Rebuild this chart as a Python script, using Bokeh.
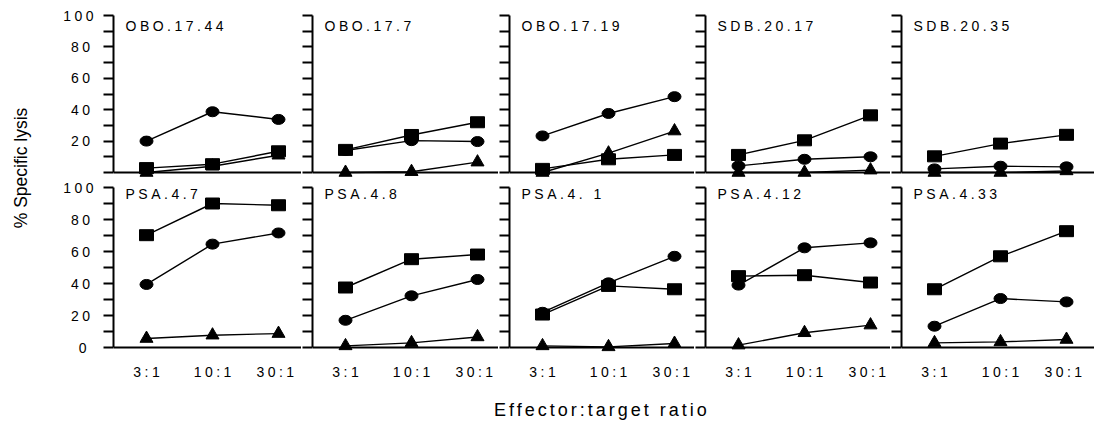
import math
from bokeh.plotting import figure
from bokeh.layouts import row, column
from bokeh.models import (Range1d, FixedTicker, Span, Label, InlineStyleSheet,
                          CustomJSTickFormatter)
from bokeh.embed import file_html
from bokeh.resources import INLINE

# ---------------- data ----------------
ratios = ["3:1", "10:1", "30:1"]
panel_names = ["OBO.17.44", "OBO.17.7", "OBO.17.19", "SDB.20.17", "SDB.20.35",
               "PSA.4.7", "PSA.4.8", "PSA.4. 1", "PSA.4.12", "PSA.4.33"]
y_ticks = [0, 20, 40, 60, 80, 100]
y_minor_ticks = [10, 30, 50, 70, 90]

# % specific lysis, one list per panel (3:1, 10:1, 30:1)
circle_vals = [
    [20, 38.7, 33.8],
    [14, 20.3, 19.7],
    [23.3, 37.6, 48.3],
    [4.2, 8.4, 10],
    [2.3, 4, 3.6],
    [39.4, 64.6, 71.6],
    [17, 32.3, 42.5],
    [22, 40.4, 57],
    [39, 62.3, 65.4],
    [13.3, 30.6, 28.5],
]
square_vals = [
    [2.8, 5.3, 13.5],
    [14.4, 23.9, 32],
    [2.3, 8.4, 11.2],
    [11.2, 20.5, 36.4],
    [10.3, 18.4, 24],
    [70.2, 90, 88.9],
    [37.5, 55.2, 58.1],
    [20.6, 38.5, 36.4],
    [44.6, 45.2, 40.6],
    [36.4, 57, 72.7],
]
triangle_vals = [
    [0, 4, 11],
    [0, 0.5, 6.6],
    [0, 12.3, 26.4],
    [0, 0, 1.5],
    [0, 0, 1],
    [5.6, 7.7, 8.7],
    [1, 2.9, 6.6],
    [1, 0.4, 2.5],
    [1.5, 9.2, 14],
    [2.9, 3.5, 5],
]

# ---------------- layout ----------------
FONT = "Liberation Sans"
LS = 3.5                      # letter spacing (px) of panel texts
K = 66.0                      # px per category step
LEFT_PAD = 33                 # px from y-axis to first category
col_frame_w = [188, 186, 185, 185, 193]
col_left = [65, 11, 11, 11, 11]
# leftward nudge (px) of each x tick label so the letter-spaced text stays centred
label_nudge = [(len(s) - 1) * LS / 2 for s in ratios]
label_nudge[-1] = 8.5


def make_panel(idx, r, c):
    fw = col_frame_w[c]
    x0 = -LEFT_PAD / K
    x1 = x0 + fw / K
    if r == 0:
        zero_px, below, h, bt, bb, title_px = 157, 8, 180, 15, 0, 10
    else:
        zero_px, below, h, bt, bb, title_px = 160, 6, 205, 7, 32, 6.5
    ppu = zero_px / 100.0
    y0 = -below / ppu
    p = figure(width=col_left[c] + fw, height=h,
               x_range=Range1d(x0, x1), y_range=Range1d(y0, 100),
               output_backend="svg", toolbar_location=None,
               x_axis_location=("below" if r == 1 else None),
               min_border_left=col_left[c], min_border_right=0,
               min_border_top=bt, min_border_bottom=bb,
               outline_line_color=None,
               stylesheets=[InlineStyleSheet(css=":host { letter-spacing: %spx; }" % LS)])
    p.grid.visible = False

    yax = p.yaxis[0]
    yax.ticker = FixedTicker(ticks=y_ticks, minor_ticks=y_minor_ticks)
    yax.bounds = (0, 100)
    yax.axis_line_width = 2
    yax.major_tick_line_width = 2
    yax.minor_tick_line_width = 2
    yax.major_tick_in = 0
    yax.minor_tick_in = 0
    yax.major_tick_out = 10
    yax.minor_tick_out = 10
    yax.major_label_text_font = FONT
    yax.major_label_text_font_size = "14px"
    yax.major_label_text_color = "black"
    if c == 0:
        yax.major_label_standoff = 17
        if r == 0:
            yax.major_label_overrides = {0: ""}
    else:
        yax.major_label_standoff = 0
        yax.major_label_overrides = {t: "" for t in y_ticks}

    if r == 1:
        xax = p.xaxis[0]
        xax.ticker = FixedTicker(ticks=[i - label_nudge[i] / K for i in range(len(ratios))])
        xax.formatter = CustomJSTickFormatter(args=dict(labels=ratios),
                                              code="return labels[Math.round(tick)];")
        xax.axis_line_color = None
        xax.major_tick_line_color = None
        xax.minor_tick_line_color = None
        xax.major_tick_in = 0
        xax.major_tick_out = 0
        xax.major_label_standoff = 10
        xax.major_label_text_font = FONT
        xax.major_label_text_font_size = "14px"
        xax.major_label_text_color = "black"

    p.add_layout(Span(location=0, dimension="width", line_color="black", line_width=2))

    xs = list(range(len(ratios)))
    for vals in (triangle_vals[idx], square_vals[idx], circle_vals[idx]):
        p.line(xs, vals, line_color="black", line_width=1.4)
    p.scatter(xs, triangle_vals[idx], marker="triangle", size=13,
              fill_color="black", line_color="black")
    p.rect(xs, square_vals[idx], width=14, height=11, width_units="screen",
           height_units="screen", fill_color="black", line_color="black")
    p.ellipse(xs, circle_vals[idx], width=13, height=10, width_units="screen",
              height_units="screen", fill_color="black", line_color="black")

    p.add_layout(Label(x=x0 + 12 / K, y=100 - title_px / ppu, text=panel_names[idx],
                       text_font=FONT, text_font_size="14px", text_color="black",
                       text_baseline="alphabetic", text_align="left"))
    return p


top = [make_panel(i, 0, i) for i in range(5)]
bottom = [make_panel(5 + i, 1, i) for i in range(5)]

# y-axis title
YH = 385
yf = figure(width=48, height=YH, x_range=Range1d(0, 48), y_range=Range1d(0, YH),
            output_backend="svg", toolbar_location=None,
            x_axis_location=None, y_axis_location=None,
            min_border=0, outline_line_color=None)
yf.grid.visible = False
yf.add_layout(Label(x=20, y=YH - 167.5, text="% Specific lysis", angle=math.pi / 2,
                    text_font=FONT, text_font_size="17.5px", text_color="black",
                    text_align="center", text_baseline="middle"))

# x-axis title
XW, XH = 1094, 36
xf = figure(width=XW, height=XH, x_range=Range1d(0, XW), y_range=Range1d(0, XH),
            output_backend="svg", toolbar_location=None,
            x_axis_location=None, y_axis_location=None,
            min_border=0, outline_line_color=None,
            stylesheets=[InlineStyleSheet(css=":host { letter-spacing: 3px; }")])
xf.grid.visible = False
xf.add_layout(Label(x=493.5, y=12, text="Effector:target ratio",
                    text_font=FONT, text_font_size="18px", text_color="black",
                    text_align="left", text_baseline="alphabetic"))

layout = column(row(yf, column(row(*top), row(*bottom))), xf)

open("out.html", "w").write(file_html(layout, INLINE))
